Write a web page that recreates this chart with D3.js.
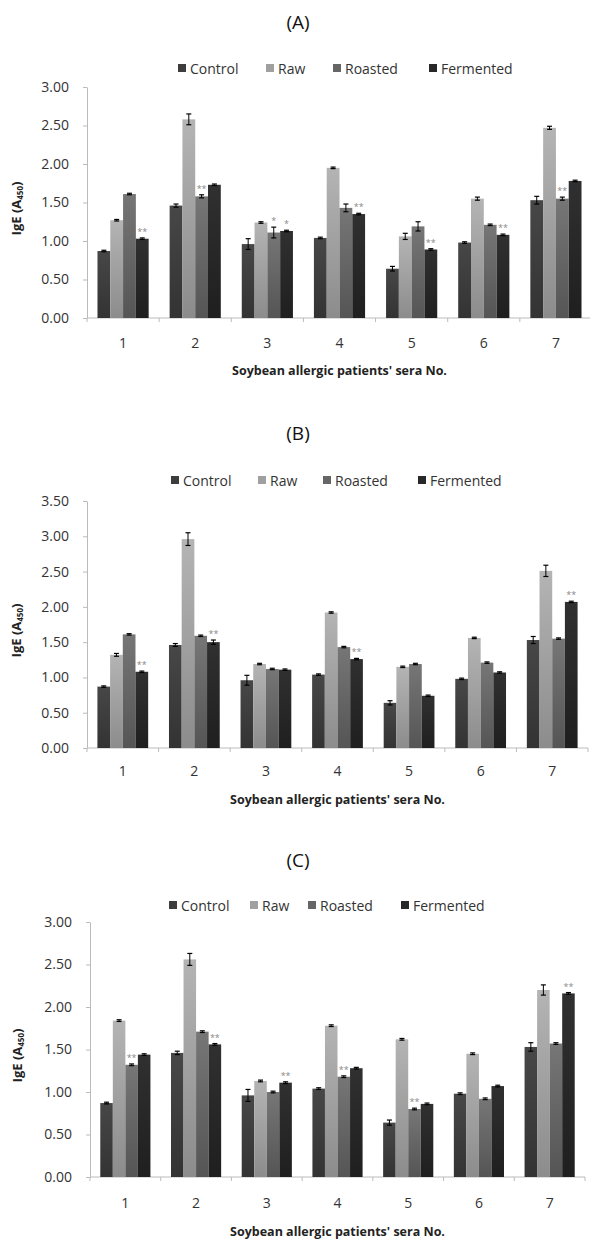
<!DOCTYPE html>
<html>
<head>
<meta charset="utf-8">
<script src="https://cdn.jsdelivr.net/npm/d3@7"></script>
<style>
  html, body { margin: 0; padding: 0; background: #fff; }
  svg { display: block; }
  text { font-family: "Open Sans", "Noto Sans", sans-serif; }
</style>
</head>
<body>
<div id="chart"></div>
<script>
// sera numbers and treatments
const sera = ['1', '2', '3', '4', '5', '6', '7'];
const treatments = ['Control', 'Raw', 'Roasted', 'Fermented'];

// control is the same in all three panels
const control    = [0.87, 1.46, 0.96, 1.04, 0.64, 0.98, 1.53];
const controlErr = [0.01, 0.02, 0.07, 0.01, 0.03, 0.01, 0.05];

// (A)
const rawA          = [1.27, 2.58, 1.24, 1.95, 1.06, 1.55, 2.47];
const rawErrA       = [0.01, 0.07, 0.01, 0.01, 0.04, 0.02, 0.02];
const roastedA      = [1.61, 1.58, 1.11, 1.43, 1.19, 1.21, 1.55];
const roastedErrA   = [0.01, 0.02, 0.07, 0.05, 0.06, 0.01, 0.02];
const fermentedA    = [1.03, 1.73, 1.13, 1.35, 0.89, 1.08, 1.78];
const fermentedErrA = [0.01, 0.01, 0.01, 0.01, 0.01, 0.01, 0.01];
const roastedSigA   = ['', '**', '*', '', '', '', '**'];
const fermentedSigA = ['**', '', '*', '**', '**', '**', ''];

// (B)
const rawB          = [1.32, 2.96, 1.19, 1.92, 1.15, 1.56, 2.51];
const rawErrB       = [0.02, 0.09, 0.01, 0.01, 0.01, 0.01, 0.08];
const roastedB      = [1.61, 1.59, 1.12, 1.43, 1.19, 1.21, 1.55];
const roastedErrB   = [0.01, 0.01, 0.01, 0.01, 0.01, 0.01, 0.01];
const fermentedB    = [1.08, 1.50, 1.11, 1.26, 0.74, 1.07, 2.07];
const fermentedErrB = [0.01, 0.03, 0.01, 0.01, 0.01, 0.01, 0.01];
const roastedSigB   = ['', '', '', '', '', '', ''];
const fermentedSigB = ['**', '**', '', '**', '', '', '**'];

// (C)
const rawC          = [1.84, 2.56, 1.13, 1.78, 1.62, 1.45, 2.20];
const rawErrC       = [0.01, 0.07, 0.01, 0.01, 0.01, 0.01, 0.06];
const roastedC      = [1.32, 1.71, 1.00, 1.18, 0.80, 0.92, 1.57];
const roastedErrC   = [0.01, 0.01, 0.01, 0.01, 0.01, 0.01, 0.01];
const fermentedC    = [1.44, 1.56, 1.11, 1.28, 0.86, 1.07, 2.16];
const fermentedErrC = [0.01, 0.01, 0.01, 0.01, 0.01, 0.01, 0.01];
const roastedSigC   = ['**', '', '', '**', '**', '', ''];
const fermentedSigC = ['', '**', '**', '', '', '', '**'];

const yTicksA = [0, 0.5, 1, 1.5, 2, 2.5, 3];
const yTicksB = [0, 0.5, 1, 1.5, 2, 2.5, 3, 3.5];
const yTicksC = [0, 0.5, 1, 1.5, 2, 2.5, 3];

const xTitle = "Soybean allergic patients' sera No.";

// colours: [top, bottom] of the bar shading
const shades = {
    Control:   ['#474747', '#333333'],
    Raw:       ['#b4b4b4', '#8c8c8c'],
    Roasted:   ['#767676', '#555555'],
    Fermented: ['#303030', '#1f1f1f']
};

const W = 590, H = 1241;
const svg = d3.select('#chart').append('svg')
      .attr('width', W)
      .attr('height', H);
svg.append('rect').attr('width', W).attr('height', H).attr('fill', '#fff');

const defs = svg.append('defs');
treatments.forEach(t => {
    const g = defs.append('linearGradient')
          .attr('id', 'g-' + t)
          .attr('x1', 0).attr('y1', 0).attr('x2', 0).attr('y2', 1);
    g.append('stop').attr('offset', '0%').attr('stop-color', shades[t][0]);
    g.append('stop').attr('offset', '100%').attr('stop-color', shades[t][1]);
});

function drawPanel(p) {
    const x0 = d3.scaleBand().domain(sera).range(p.xRange);
    const x1 = d3.scaleBand().domain(treatments)
          .range([0, x0.bandwidth()])
          .paddingOuter(0.82);
    const y = d3.scaleLinear().domain(p.yDomain).range(p.yRange);

    const root = svg.append('g');

    // title
    root.append('text')
        .attr('x', 298)
        .attr('y', p.titleY)
        .attr('text-anchor', 'middle')
        .attr('dominant-baseline', 'central')
        .attr('font-family', '"Liberation Sans", Arial, sans-serif')
        .attr('font-size', 19)
        .attr('fill', '#111')
        .text(p.title);

    // legend
    const leg = root.selectAll('.leg').data(treatments).enter()
          .append('g').attr('class', 'leg');
    leg.append('rect')
        .attr('x', (d, i) => p.legendX[i])
        .attr('y', p.legendY - 4)
        .attr('width', 8)
        .attr('height', 8)
        .attr('fill', d => d3.interpolateRgb(shades[d][0], shades[d][1])(0.5));
    leg.append('text')
        .attr('x', (d, i) => p.legendX[i] + 12)
        .attr('y', p.legendY)
        .attr('dominant-baseline', 'central')
        .attr('font-size', 14)
        .attr('fill', '#333')
        .text(d => d);

    // y axis
    const yAxis = root.append('g')
          .attr('transform', 'translate(' + p.xRange[0] + ',0)')
          .call(d3.axisLeft(y).tickValues(p.yTicks).tickFormat(d3.format('.2f'))
                .tickSize(4).tickSizeOuter(0).tickPadding(14));
    yAxis.select('.domain').attr('stroke', '#bbb');
    yAxis.selectAll('.tick line').attr('stroke', '#bbb');
    yAxis.selectAll('.tick text')
        .attr('font-family', '"Open Sans", sans-serif')
        .attr('font-size', 14)
        .attr('fill', '#333');

    // x axis: line, boundary ticks, labels
    root.append('line')
        .attr('x1', p.xRange[0]).attr('x2', p.xRange[1])
        .attr('y1', y(0)).attr('y2', y(0))
        .attr('stroke', '#bbb');
    root.selectAll('.xtick').data(sera.concat(['end'])).enter()
        .append('line')
        .attr('class', 'xtick')
        .attr('x1', d => d === 'end' ? p.xRange[1] : x0(d))
        .attr('x2', d => d === 'end' ? p.xRange[1] : x0(d))
        .attr('y1', y(0)).attr('y2', y(0) + 4)
        .attr('stroke', '#bbb');
    root.selectAll('.xlab').data(sera).enter()
        .append('text')
        .attr('class', 'xlab')
        .attr('x', d => x0(d) + x0.bandwidth() / 2)
        .attr('y', p.tickLabelY)
        .attr('text-anchor', 'middle')
        .attr('dominant-baseline', 'central')
        .attr('font-size', 14)
        .attr('fill', '#333')
        .text(d => d);

    // axis titles
    root.append('text')
        .attr('x', (p.xRange[0] + p.xRange[1]) / 2)
        .attr('y', p.xLabelY)
        .attr('text-anchor', 'middle')
        .attr('dominant-baseline', 'central')
        .attr('font-size', 12.5)
        .attr('font-weight', 'bold')
        .attr('fill', '#222')
        .text(xTitle);
    const yl = root.append('text')
        .attr('transform', 'translate(' + p.yLabelX + ',' + ((p.yRange[0] + p.yRange[1]) / 2 + 6) + ') rotate(-90)')
        .attr('text-anchor', 'middle')
        .attr('dominant-baseline', 'central')
        .attr('font-size', 13)
        .attr('font-weight', 'bold')
        .attr('fill', '#222');
    yl.append('tspan').text('IgE (A');
    yl.append('tspan').attr('font-size', 8).attr('dy', 3).text('450');
    yl.append('tspan').attr('dy', -3).text(')');

    // bars
    const rows = sera.map((s, i) => ({
        serum: s,
        bars: p.series.map((ser, k) => ({
            treatment: treatments[k],
            value: ser.values[i],
            err: ser.errs[i],
            sig: ser.sig ? ser.sig[i] : ''
        }))
    }));

    const grp = root.selectAll('.grp').data(rows).enter()
          .append('g')
          .attr('class', 'grp')
          .attr('transform', d => 'translate(' + x0(d.serum) + ',0)');

    const bar = grp.selectAll('.bar').data(d => d.bars).enter()
          .append('g').attr('class', 'bar');
    bar.append('rect')
        .attr('x', d => x1(d.treatment))
        .attr('y', d => y(d.value))
        .attr('width', x1.bandwidth())
        .attr('height', d => y(0) - y(d.value))
        .attr('fill', d => 'url(#g-' + d.treatment + ')');

    // error bars
    const cx = d => x1(d.treatment) + x1.bandwidth() / 2;
    bar.append('line')
        .attr('x1', cx).attr('x2', cx)
        .attr('y1', d => y(d.value - d.err)).attr('y2', d => y(d.value + d.err))
        .attr('stroke', '#000').attr('stroke-width', 1);
    bar.append('line')
        .attr('x1', d => cx(d) - 2.5).attr('x2', d => cx(d) + 2.5)
        .attr('y1', d => y(d.value + d.err)).attr('y2', d => y(d.value + d.err))
        .attr('stroke', '#000').attr('stroke-width', 1.2);
    bar.append('line')
        .attr('x1', d => cx(d) - 2.5).attr('x2', d => cx(d) + 2.5)
        .attr('y1', d => y(d.value - d.err)).attr('y2', d => y(d.value - d.err))
        .attr('stroke', '#000').attr('stroke-width', 1.2);

    // significance marks
    bar.filter(d => d.sig)
        .append('text')
        .attr('x', cx)
        .attr('y', d => y(d.value + d.err) - 3)
        .attr('text-anchor', 'middle')
        .attr('font-size', 9)
        .attr('fill', '#888')
        .text(d => d.sig);
}

drawPanel({
    title: '(A)', titleY: 22,
    legendY: 68, legendX: [178, 266, 333, 429],
    xRange: [87, 592], yDomain: [0, 3], yRange: [318, 87], yTicks: yTicksA,
    tickLabelY: 342, xLabelY: 370, yLabelX: 16,
    series: [
        {values: control, errs: controlErr},
        {values: rawA, errs: rawErrA},
        {values: roastedA, errs: roastedErrA, sig: roastedSigA},
        {values: fermentedA, errs: fermentedErrA, sig: fermentedSigA}
    ]
});

drawPanel({
    title: '(B)', titleY: 433,
    legendY: 480, legendX: [171, 258, 323, 418],
    xRange: [87, 588], yDomain: [0, 3.5], yRange: [748, 501], yTicks: yTicksB,
    tickLabelY: 770, xLabelY: 799, yLabelX: 16,
    series: [
        {values: control, errs: controlErr},
        {values: rawB, errs: rawErrB},
        {values: roastedB, errs: roastedErrB, sig: roastedSigB},
        {values: fermentedB, errs: fermentedErrB, sig: fermentedSigB}
    ]
});

drawPanel({
    title: '(C)', titleY: 860,
    legendY: 905, legendX: [169, 250, 308, 401],
    xRange: [90, 585], yDomain: [0, 3], yRange: [1177, 922], yTicks: yTicksC,
    tickLabelY: 1202, xLabelY: 1231, yLabelX: 17,
    series: [
        {values: control, errs: controlErr},
        {values: rawC, errs: rawErrC},
        {values: roastedC, errs: roastedErrC, sig: roastedSigC},
        {values: fermentedC, errs: fermentedErrC, sig: fermentedSigC}
    ]
});
</script>
</body>
</html>
